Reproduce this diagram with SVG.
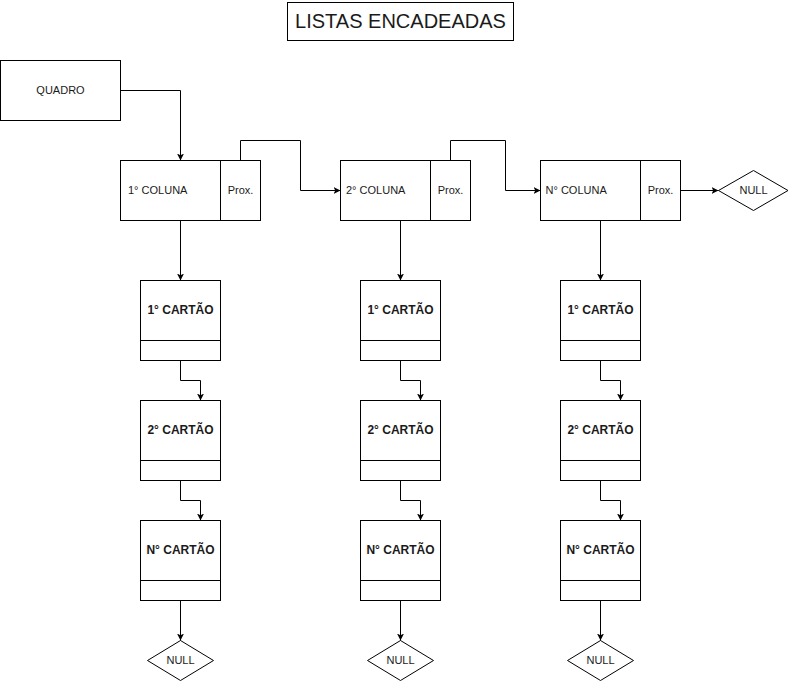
<svg xmlns="http://www.w3.org/2000/svg" width="788" height="681" viewBox="0 0 788 681">
<style>
rect, polygon { fill: #ffffff; stroke: #000000; stroke-width: 1; }
.div { stroke: #000000; stroke-width: 1; fill: none; }
text { font-family: "Liberation Sans", Arial, sans-serif; font-size: 11px; fill: #1a1a1a; dominant-baseline: central; }
.c { text-anchor: middle; }
.b { font-weight: bold; font-size: 12px; text-anchor: middle; }
.t { font-size: 20px; text-anchor: middle; }
#connectors path { fill: none; stroke: #000000; stroke-width: 1; marker-end: url(#arr); }
</style>
<defs>
<marker id="arr" viewBox="0 0 10 10" refX="10" refY="5" markerWidth="7" markerHeight="7" markerUnits="userSpaceOnUse" orient="auto">
<path d="M0,0 L10,5 L0,10 L2.5,5 Z" fill="#000000" stroke="none"/>
</marker>
</defs>

<g id="title"><rect x="287.5" y="2.5" width="226" height="38"/><text class="t" x="400.5" y="21">LISTAS ENCADEADAS</text></g>

<g id="quadro"><rect x="0.5" y="60.5" width="120" height="60"/><text class="c" x="60.5" y="90">QUADRO</text></g>

<g id="col1"><rect x="120.5" y="160.5" width="140" height="60"/><line class="div" x1="220.5" y1="160.5" x2="220.5" y2="220.5"/><text x="128" y="190">1° COLUNA</text><text class="c" x="240.5" y="190">Prox.</text></g>
<g id="col2"><rect x="340.5" y="160.5" width="130" height="60"/><line class="div" x1="430.5" y1="160.5" x2="430.5" y2="220.5"/><text x="346" y="190">2° COLUNA</text><text class="c" x="450.5" y="190">Prox.</text></g>
<g id="col3"><rect x="540.5" y="160.5" width="140" height="60"/><line class="div" x1="640.5" y1="160.5" x2="640.5" y2="220.5"/><text x="545.5" y="190">N° COLUNA</text><text class="c" x="660.5" y="190">Prox.</text></g>

<g id="null0"><polygon points="718.5,190.5 753.5,170.5 788,190.5 753.5,210.5"/><text class="c" x="753.5" y="190">NULL</text></g>

<g id="c1a"><rect x="140.5" y="280.5" width="80" height="80"/><line class="div" x1="140.5" y1="340.5" x2="220.5" y2="340.5"/><text class="b" x="180.5" y="309.5">1° CARTÃO</text></g>
<g id="c1b"><rect x="140.5" y="400.5" width="80" height="80"/><line class="div" x1="140.5" y1="460.5" x2="220.5" y2="460.5"/><text class="b" x="180.5" y="429.5">2° CARTÃO</text></g>
<g id="c1n"><rect x="140.5" y="520.5" width="80" height="80"/><line class="div" x1="140.5" y1="580.5" x2="220.5" y2="580.5"/><text class="b" x="180.5" y="549.5">N° CARTÃO</text></g>
<g id="null1"><polygon points="147.5,660.5 180.5,640.5 213.5,660.5 180.5,680.5"/><text class="c" x="180.5" y="660">NULL</text></g>

<g id="c2a"><rect x="360.5" y="280.5" width="80" height="80"/><line class="div" x1="360.5" y1="340.5" x2="440.5" y2="340.5"/><text class="b" x="400.5" y="309.5">1° CARTÃO</text></g>
<g id="c2b"><rect x="360.5" y="400.5" width="80" height="80"/><line class="div" x1="360.5" y1="460.5" x2="440.5" y2="460.5"/><text class="b" x="400.5" y="429.5">2° CARTÃO</text></g>
<g id="c2n"><rect x="360.5" y="520.5" width="80" height="80"/><line class="div" x1="360.5" y1="580.5" x2="440.5" y2="580.5"/><text class="b" x="400.5" y="549.5">N° CARTÃO</text></g>
<g id="null2"><polygon points="367.5,660.5 400.5,640.5 433.5,660.5 400.5,680.5"/><text class="c" x="400.5" y="660">NULL</text></g>

<g id="c3a"><rect x="560.5" y="280.5" width="80" height="80"/><line class="div" x1="560.5" y1="340.5" x2="640.5" y2="340.5"/><text class="b" x="600.5" y="309.5">1° CARTÃO</text></g>
<g id="c3b"><rect x="560.5" y="400.5" width="80" height="80"/><line class="div" x1="560.5" y1="460.5" x2="640.5" y2="460.5"/><text class="b" x="600.5" y="429.5">2° CARTÃO</text></g>
<g id="c3n"><rect x="560.5" y="520.5" width="80" height="80"/><line class="div" x1="560.5" y1="580.5" x2="640.5" y2="580.5"/><text class="b" x="600.5" y="549.5">N° CARTÃO</text></g>
<g id="null3"><polygon points="567.5,660.5 600.5,640.5 633.5,660.5 600.5,680.5"/><text class="c" x="600.5" y="660">NULL</text></g>

<g id="connectors">
<path d="M120.5,90.5 H180.5 V160.5"/>
<path d="M240.5,160.5 V140.5 H300.5 V190.5 H340.5"/>
<path d="M450.5,160.5 V140.5 H505.5 V190.5 H540.5"/>
<path d="M680.5,190.5 H718.5"/>
<path d="M180.5,220.5 V280.5"/>
<path d="M180.5,360.5 V380.5 H200.5 V400.5"/>
<path d="M180.5,480.5 V500.5 H200.5 V520.5"/>
<path d="M180.5,600.5 V640.5"/>
<path d="M400.5,220.5 V280.5"/>
<path d="M400.5,360.5 V380.5 H420.5 V400.5"/>
<path d="M400.5,480.5 V500.5 H420.5 V520.5"/>
<path d="M400.5,600.5 V640.5"/>
<path d="M600.5,220.5 V280.5"/>
<path d="M600.5,360.5 V380.5 H620.5 V400.5"/>
<path d="M600.5,480.5 V500.5 H620.5 V520.5"/>
<path d="M600.5,600.5 V640.5"/>
</g>
</svg>
